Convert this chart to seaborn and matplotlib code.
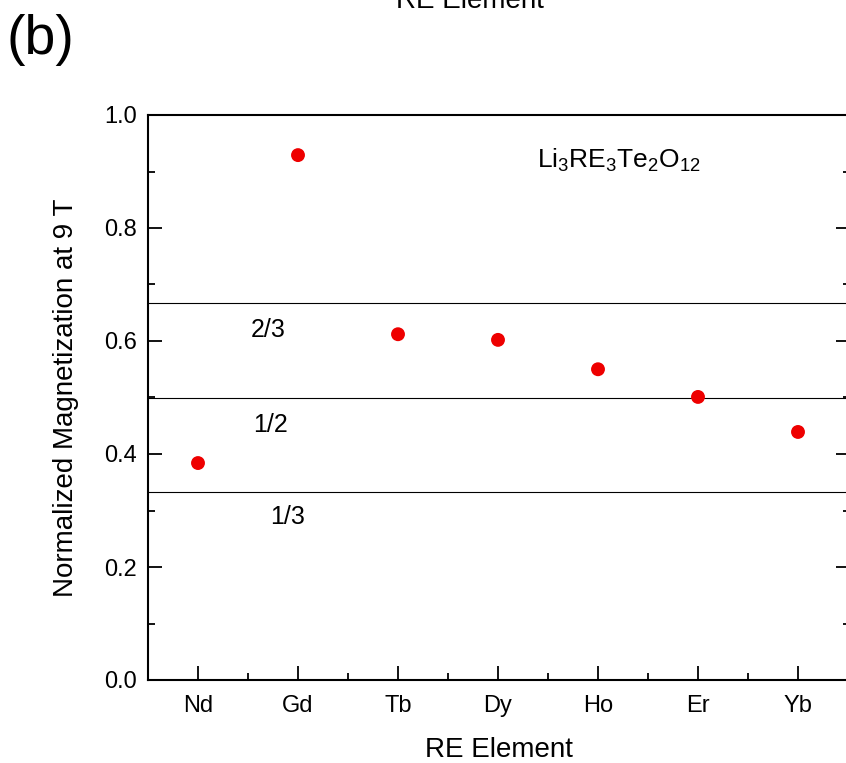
import matplotlib
matplotlib.use("Agg")
import matplotlib.pyplot as plt
from matplotlib.ticker import MultipleLocator, FormatStrFormatter
import seaborn as sns
import pandas as pd

elements = ["Nd", "Gd", "Tb", "Dy", "Ho", "Er", "Yb"]
magnetization = [0.384, 0.929, 0.612, 0.602, 0.550, 0.501, 0.439]
ref_levels = [2/3, 1/2, 1/3]
ref_labels = ["2/3", "1/2", "1/3"]

sns.set_style("ticks")
plt.rcParams['font.family'] = ['Liberation Sans', 'DejaVu Sans']
plt.rcParams['mathtext.fontset'] = 'custom'
plt.rcParams['mathtext.rm'] = 'Liberation Sans'
plt.rcParams['mathtext.it'] = 'Liberation Sans'
for k in ['text.color', 'axes.labelcolor', 'xtick.color', 'ytick.color', 'axes.edgecolor']:
    plt.rcParams[k] = 'black'

df = pd.DataFrame({"RE": elements, "M": magnetization})

fig = plt.figure(figsize=(8.46, 7.63), dpi=100)
W, H = 846, 763
ax = fig.add_axes([148 / W, 1 - 680 / H, 702 / W, 565 / H])

for lv in ref_levels:
    ax.axhline(lv, color="black", lw=0.8, zorder=1)

sns.scatterplot(data=df, x="RE", y="M", ax=ax, color="#ee0000", s=100,
                edgecolor="none", zorder=3)

ax.set_xlim(-0.5, 6.52)
ax.set_ylim(0, 1.0)
ax.yaxis.set_major_locator(MultipleLocator(0.2))
ax.yaxis.set_minor_locator(MultipleLocator(0.1))
ax.set_xticks(range(len(elements)))
ax.set_xticklabels(elements)
ax.set_xticks([i + 0.5 for i in range(len(elements) - 1)], minor=True)
ax.tick_params(axis="both", which="major", direction="in", length=10, width=1.3,
               labelsize=17, pad=8)
ax.tick_params(axis="x", which="major", pad=11)
ax.tick_params(axis="both", which="minor", direction="in", length=5, width=1.3)
ax.tick_params(axis="y", which="both", right=True)
ax.yaxis.set_major_formatter(FormatStrFormatter("%.1f"))
for sp in ax.spines.values():
    sp.set_linewidth(1.5)

ax.set_xlabel("RE Element", fontsize=20, labelpad=14)
ax.set_ylabel("Normalized Magnetization at 9 T", fontsize=20, labelpad=18)

label_pos = [(268, 330), (270, 425), (288, 517)]
for (px, py), lab in zip(label_pos, ref_labels):
    ax.text(px / W, 1 - py / H, lab, transform=fig.transFigure, fontsize=18,
            ha="center", va="center")

ax.text(619 / W, 1 - 160 / H, r"Li$_3$RE$_3$Te$_2$O$_{12}$", transform=fig.transFigure,
        fontsize=19, ha="center", va="center")

fig.text(470 / W, 1 - 8 / H, "RE Element", fontsize=20, ha="center", va="baseline")
fig.text(6 / W, 1 - 40 / H, "(b)", fontsize=40, ha="left", va="center")

fig.savefig("out.png", dpi=100)
